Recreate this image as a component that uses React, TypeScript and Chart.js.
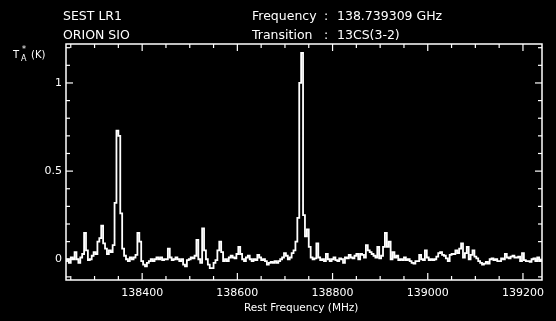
import React, { useEffect, useRef } from "react";
import { Chart, registerables } from "chart.js";

Chart.register(...registerables);

// ---- data (antenna temperature per 4 MHz channel, starting at 138240 MHz) ----
const FREQ_START = 138240;
const CHANNEL_MHZ = 4;

const tempsA = [
  -0.01, 0.0, -0.02, 0.01, 0.0, 0.04, 0.0, -0.02, 0.01, 0.03,
  0.15, 0.05, -0.005, 0.0, 0.02, 0.04, 0.03, 0.1, 0.12, 0.19,
  0.09, 0.06, 0.03, 0.05, 0.04, 0.08, 0.32, 0.73, 0.7, 0.26,
  0.06, 0.02, 0.0, -0.01, 0.01, 0.0, 0.01, 0.025, 0.15, 0.1,
  -0.01, -0.03, -0.04, -0.02, -0.01, 0.0, -0.01, 0.0, 0.01, 0.0,
];
const tempsB = [
  0.01, -0.005, 0.0, 0.0, 0.06, 0.01, -0.005, 0.0, 0.01, 0.0,
  -0.01, 0.0, -0.03, -0.04, -0.005, 0.0, 0.01, 0.005, 0.02, 0.11,
  0.0, -0.02, 0.175, 0.05, 0.0, -0.03, -0.05, -0.05, -0.02, -0.005,
  0.05, 0.1, 0.04, -0.01, 0.0, -0.01, 0.01, 0.02, 0.01, 0.005,
  0.03, 0.07, 0.03, 0.0, -0.01, 0.01, 0.02, 0.0, -0.01, 0.0,
];
const tempsC = [
  -0.005, 0.025, 0.01, -0.005, 0.0, -0.01, -0.03, -0.02, -0.015, -0.02,
  -0.01, -0.02, -0.01, 0.0, 0.01, 0.035, 0.02, 0.0, 0.01, 0.035,
  0.05, 0.1, 0.235, 1.0, 1.17, 0.25, 0.13, 0.17, 0.07, 0.01,
  0.0, 0.005, 0.09, 0.01, -0.005, 0.0, -0.01, 0.03, 0.0, -0.01,
  0.0, 0.01, -0.005, -0.01, 0.005, 0.0, -0.02, 0.01, 0.005, 0.025,
];
const tempsD = [
  0.01, 0.005, 0.02, 0.03, 0.0, 0.03, 0.025, 0.01, 0.08, 0.05,
  0.04, 0.03, 0.02, 0.01, 0.07, 0.005, 0.02, 0.07, 0.15, 0.07,
  0.1, 0.0, 0.04, 0.01, 0.02, -0.005, 0.0, -0.005, 0.01, -0.005,
  0.0, -0.01, -0.02, -0.025, -0.01, -0.01, 0.025, 0.0, -0.005, 0.05,
  0.01, -0.005, 0.0, -0.005, 0.0, 0.015, 0.035, 0.04, 0.025, 0.02,
];
const tempsE = [
  0.005, -0.01, 0.025, 0.03, 0.03, 0.05, 0.035, 0.06, 0.09, 0.01,
  0.035, 0.07, 0.0, 0.025, 0.05, 0.015, 0.005, -0.01, -0.02, -0.03,
  -0.025, -0.015, -0.025, 0.0, 0.005, -0.005, 0.0, -0.01, -0.01, 0.005,
  0.0, 0.03, 0.01, 0.005, 0.015, 0.02, 0.01, 0.01, 0.015, -0.01,
  0.035, -0.005, -0.01, -0.01, -0.015, 0.0, 0.005, -0.01, 0.01, -0.01,
  -0.005,
];

// ---- axes ----
const X_MIN = 138240;
const X_MAX = 139240;
const Y_MIN = -0.1176;
const Y_MAX = 1.221;
const xMinorTicks = [
  138250, 138300, 138350, 138450, 138500, 138550, 138650, 138700, 138750,
  138850, 138900, 138950, 139050, 139100, 139150,
];
const xMajorTicks = [138400, 138600, 138800, 139000, 139200];
const xTickLabels = ["138400", "138600", "138800", "139000", "139200"];
const yMinorTicks = [-0.1, 0.1, 0.2, 0.3, 0.4, 0.6, 0.7, 0.8, 0.9, 1.1, 1.2];
const yMajorTicks = [0, 0.5, 1];
const yTickLabels = ["0", "0.5", "1"];

const headerLeft = ["SEST LR1", "ORION SIO"];
const headerKeys = ["Frequency", "Transition"];
const headerValues = ["138.739309 GHz", "13CS(3-2)"];
const xTitle = "Rest Frequency (MHz)";

export default function App() {
  const ref = useRef<HTMLCanvasElement | null>(null);

  useEffect(() => {
    document.body.style.margin = "0";
    document.body.style.background = "#000";
    document.documentElement.style.background = "#000";
    const canvas = ref.current!;
    const temps = [...tempsA, ...tempsB, ...tempsC, ...tempsD, ...tempsE];
    const points = temps.map((t, i) => ({ x: FREQ_START + i * CHANNEL_MHZ, y: t }));

    const FONT = "'DejaVu Sans', sans-serif";

    const framePlugin = {
      id: "frame",
      beforeDraw(chart: any) {
        const c = chart.ctx;
        c.save();
        c.fillStyle = "#000";
        c.fillRect(0, 0, chart.width, chart.height);
        c.restore();
      },
      afterDraw(chart: any) {
        const c = chart.ctx;
        const { left, right, top, bottom } = chart.chartArea;
        const xs = chart.scales.x;
        const ys = chart.scales.y;
        c.save();
        c.strokeStyle = "#fff";
        c.fillStyle = "#fff";
        c.lineWidth = 1.5;
        c.strokeRect(left, top, right - left, bottom - top);
        c.lineWidth = 1.2;
        const tick = (x1: number, y1: number, x2: number, y2: number) => {
          c.beginPath();
          c.moveTo(x1, y1);
          c.lineTo(x2, y2);
          c.stroke();
        };
        xMinorTicks.forEach((v) => {
          const p = xs.getPixelForValue(v);
          tick(p, bottom, p, bottom - 4);
          tick(p, top, p, top + 4);
        });
        xMajorTicks.forEach((v) => {
          const p = xs.getPixelForValue(v);
          tick(p, bottom, p, bottom - 7);
          tick(p, top, p, top + 7);
        });
        yMinorTicks.forEach((v) => {
          const p = ys.getPixelForValue(v);
          tick(left, p, left + 4, p);
          tick(right, p, right - 4, p);
        });
        yMajorTicks.forEach((v) => {
          const p = ys.getPixelForValue(v);
          tick(left, p, left + 7, p);
          tick(right, p, right - 7, p);
        });

        // tick labels
        c.font = `11px ${FONT}`;
        c.textAlign = "center";
        c.textBaseline = "alphabetic";
        xMajorTicks.forEach((v, i) => {
          c.fillText(xTickLabels[i], xs.getPixelForValue(v), 296);
        });
        c.textAlign = "right";
        c.textBaseline = "middle";
        yMajorTicks.forEach((v, i) => {
          c.fillText(yTickLabels[i], left - 4, ys.getPixelForValue(v));
        });

        // axis titles
        c.textAlign = "left";
        c.textBaseline = "alphabetic";
        c.font = `10.5px ${FONT}`;
        c.fillText(xTitle, 244, 311);
        c.font = `10px ${FONT}`;
        c.fillText("T", 13, 58);
        c.font = `8px ${FONT}`;
        c.fillText("A", 21, 61);
        c.fillText("*", 22, 52);
        c.font = `10px ${FONT}`;
        c.fillText("(K)", 31, 58);

        // header
        c.font = `12.5px ${FONT}`;
        headerLeft.forEach((s, i) => c.fillText(s, 63, 20 + i * 19));
        headerKeys.forEach((s, i) => c.fillText(s, 252, 20 + i * 19));
        headerValues.forEach((s, i) => {
          c.fillText(":", 324, 20 + i * 19);
          c.fillText(s, 337, 20 + i * 19);
        });
        c.restore();
      },
    };

    const chart = new Chart(canvas, {
      type: "line",
      data: {
        datasets: [
          {
            data: points,
            borderColor: "#fff",
            borderWidth: 1.8,
            pointRadius: 0,
            stepped: "middle",
            fill: false,
          },
        ],
      },
      options: {
        animation: false,
        responsive: false,
        maintainAspectRatio: false,
        devicePixelRatio: 1,
        layout: { padding: { left: 66, top: 44, right: 14, bottom: 41 } },
        plugins: { legend: { display: false }, tooltip: { enabled: false }, title: { display: false } },
        scales: {
          x: { type: "linear", min: X_MIN, max: X_MAX, display: false },
          y: { type: "linear", min: Y_MIN, max: Y_MAX, display: false },
        },
      },
      plugins: [framePlugin],
    });
    return () => chart.destroy();
  }, []);

  return (
    <div style={{ width: 556, height: 321, background: "#000" }}>
      <canvas ref={ref} width={556} height={321} style={{ display: "block" }} />
    </div>
  );
}
